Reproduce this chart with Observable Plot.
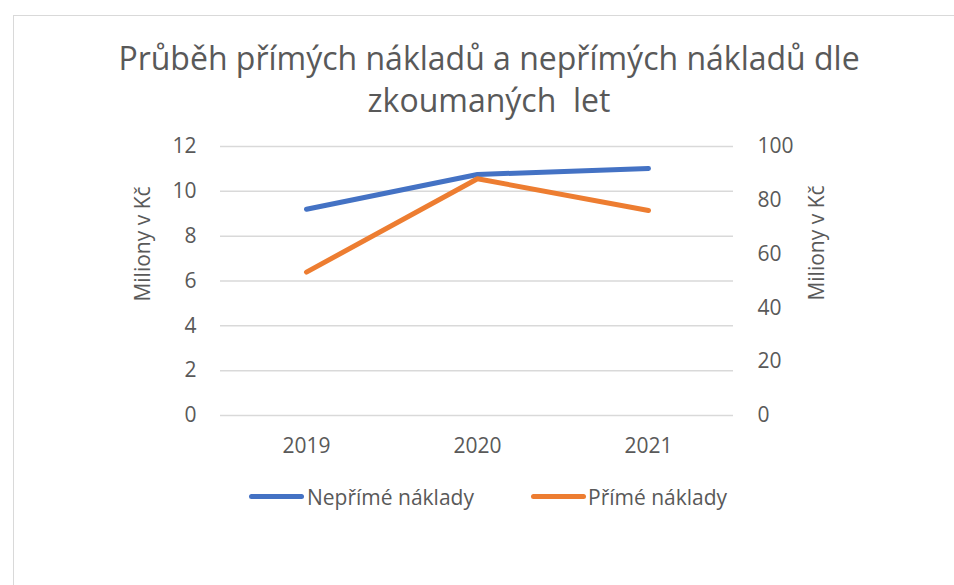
<!DOCTYPE html>
<html>
<head>
<meta charset="utf-8">
<script src="https://cdn.jsdelivr.net/npm/d3@7"></script>
<script src="https://cdn.jsdelivr.net/npm/@observablehq/plot@0.6"></script>
<style>
  html, body { margin: 0; padding: 0; background: #fff; }
  #wrap { position: relative; width: 954px; height: 585px; overflow: hidden; font-family: "Open Sans", sans-serif; color: #595959; }
  #frame { position: absolute; left: 13px; top: 15px; width: 1000px; height: 700px; border: 1.5px solid #d9d9d9; box-sizing: border-box; }
  #title { position: absolute; left: 89px; width: 800px; top: 37px; text-align: center; font-size: 32px; line-height: 42px; font-weight: 400; white-space: pre; }
  .ytitle { position: absolute; font-size: 21px; line-height: 1; white-space: nowrap; transform: translate(-50%, -50%) rotate(-90deg); }
  #chart { position: absolute; left: 0; top: 130px; }
  .sw { position: absolute; height: 5px; border-radius: 3px; top: 494px; width: 55px; }
  .lt { position: absolute; font-size: 21px; line-height: 1; top: 486.5px; white-space: nowrap; }
</style>
</head>
<body>
<div id="wrap">
  <div id="frame"></div>
  <div id="title">Průběh přímých nákladů a nepřímých nákladů dle
zkoumaných  let</div>
  <div class="ytitle" style="left:142px; top:244px;">Miliony v Kč</div>
  <div class="ytitle" style="left:816px; top:243px;">Miliony v Kč</div>
  <div id="chart"></div>
  <div class="sw" style="left:249px; background:#4472C4;"></div>
  <div class="lt" style="left:307px;">Nepřímé náklady</div>
  <div class="sw" style="left:531px; background:#ED7D31;"></div>
  <div class="lt" style="left:588px;">Přímé náklady</div>
</div>
<script>
const years = ["2019", "2020", "2021"];
const neprimeNaklady = [9.2, 10.75, 11.02];   // left axis (0–12)
const primeNaklady = [53.3, 88.0, 76.2];      // right axis (0–100)
const leftTicks = [0, 2, 4, 6, 8, 10, 12];
const rightTicks = [0, 20, 40, 60, 80, 100];

const leftMax = 12, rightMax = 100;
const toLeft = v => v * leftMax / rightMax;

const blueData = years.map((y, i) => ({year: y, value: neprimeNaklady[i]}));
const orangeData = years.map((y, i) => ({year: y, value: primeNaklady[i]}));

const chart = Plot.plot({
  width: 954,
  height: 340,
  marginLeft: 220,
  marginRight: 221,
  marginTop: 16,
  marginBottom: 55,
  x: {type: "point", domain: years, padding: 0.5},
  y: {domain: [0, leftMax]},
  style: {fontFamily: "Open Sans, sans-serif", fontSize: "21px", color: "#595959", background: "transparent", overflow: "visible"},
  marks: [
    Plot.ruleY(leftTicks, {stroke: "#d9d9d9", strokeWidth: 1.5}),
    Plot.axisY(leftTicks, {anchor: "left", tickSize: 0, tickPadding: 24, label: null}),
    Plot.axisY(rightTicks.map(toLeft), {anchor: "right", tickSize: 0, tickPadding: 24, label: null, tickFormat: d => String(Math.round(d * rightMax / leftMax))}),
    Plot.axisX(years, {tickSize: 0, tickPadding: 23, label: null}),
    Plot.line(blueData, {x: "year", y: "value", stroke: "#4472C4", strokeWidth: 5, strokeLinecap: "round", strokeLinejoin: "round"}),
    Plot.line(orangeData, {x: "year", y: d => toLeft(d.value), stroke: "#ED7D31", strokeWidth: 5, strokeLinecap: "round", strokeLinejoin: "round"})
  ]
});
document.getElementById("chart").appendChild(chart);
</script>
</body>
</html>
